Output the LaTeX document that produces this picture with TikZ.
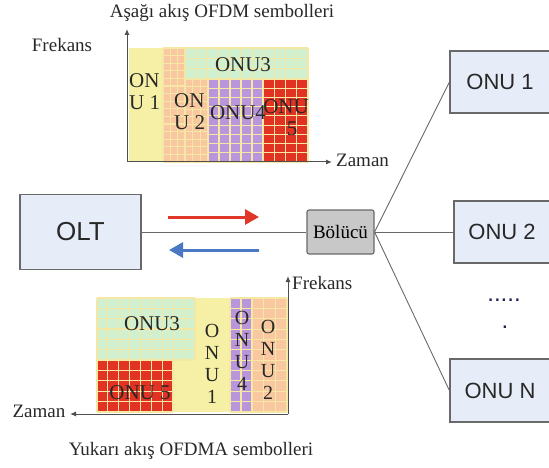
\documentclass[tikz,border=0pt]{standalone}
\usepackage{fontspec}
\setmainfont{Liberation Serif}
\newfontfamily\sansf{Liberation Sans}
\usetikzlibrary{arrows.meta}
\definecolor{cyel}{RGB}{245,240,165}
\definecolor{corange}{RGB}{250,200,160}
\definecolor{cgreen}{RGB}{208,240,208}
\definecolor{cpurple}{RGB}{185,150,220}
\definecolor{cred}{RGB}{225,50,35}
\definecolor{cgrid}{RGB}{245,232,165}
\definecolor{boxfill}{RGB}{230,237,248}
\definecolor{boxline}{RGB}{105,105,105}
\definecolor{splfill}{RGB}{200,200,200}
\definecolor{axis}{RGB}{80,80,80}
\definecolor{txt}{RGB}{40,40,40}
\definecolor{arrred}{RGB}{225,55,40}
\definecolor{arrblue}{RGB}{75,120,195}
\newcommand\cellblock[7]{%
  \fill[#7] (#1,#2) rectangle ++(#3,#4);
  \foreach \k in {0,...,#5} \draw[gridln] ({#1+\k*#3/#5},#2) -- ++(0,#4);
  \foreach \k in {0,...,#6} \draw[gridln] (#1,{#2+\k*#4/#6}) -- ++(#3,0);
}
\tikzset{
  gridln/.style={draw=cgrid, line width=1.1pt},
  netbox/.style={draw=boxline, fill=boxfill, line width=1.2pt, inner sep=0pt,
    text=txt, font=\sansf\fontsize{22}{24}\selectfont},
  splbox/.style={draw=boxline, fill=splfill, line width=1.1pt, rounded corners=2pt,
    inner sep=0pt, minimum width=67pt, minimum height=44pt, text=black,
    font=\fontsize{19}{20}\selectfont},
  link/.style={draw=boxline, line width=0.9pt},
  axisarr/.style={draw=axis, line width=1pt, -{Latex[length=6pt,width=5pt]}},
  lbl/.style={inner sep=0pt, text=txt, font=\fontsize{19}{20}\selectfont},
  cell/.style={inner sep=0pt, text=txt, font=\fontsize{21}{22}\selectfont},
  vcell/.style={inner sep=0pt, text=txt, align=center, font=\fontsize{20}{21.8}\selectfont},
}
\begin{document}
\begin{tikzpicture}[x=1pt,y=-1pt]
\useasboundingbox (0,0) rectangle (549,468);

% ---------- top chart (downstream) ----------
\fill[cyel] (129,48) rectangle (308,162);
\cellblock{163}{48}{22}{114}{3}{15}{corange}
\cellblock{185}{79}{23}{83}{3}{11}{corange}
\cellblock{185}{48}{123}{31}{11}{3}{cgreen}
\cellblock{208}{79}{55}{83}{5}{9}{cpurple}
\cellblock{263}{79}{45}{83}{4}{9}{cred}

\coordinate (to) at (127,162);
\coordinate (ty) at (127,29);
\coordinate (tx) at (332,162);
\draw[axisarr] (to) -- (ty);
\draw[axisarr] (to) -- (tx);

\node[cell, anchor=west] (t1a) at (129,81) {ON};
\node[cell, anchor=west] (t1b) at (129,103) {U 1};
\node[cell, anchor=west] (t2a) at (174,101) {ON};
\node[cell, anchor=west] (t2b) at (174,123) {U 2};
\node[cell] (t3) at (243,65) {ONU3};
\node[cell] (t4) at (238,113) {ONU4};
\node[cell] (t5a) at (286,107) {ONU};
\node[cell] (t5b) at (292,129) {5};

\node[lbl] (ttitle) at (222,13) {Aşağı akış OFDM sembolleri};
\node[lbl] (tfreq) at (62,45) {Frekans};
\node[lbl, anchor=west] (tzam) at (336,160) {Zaman};

% ---------- bottom chart (upstream) ----------
\fill[cyel] (97,298) rectangle (287,412);
\cellblock{97}{298}{98}{62}{9}{6}{cgreen}
\cellblock{97}{360}{76}{52}{7}{5}{cred}
\cellblock{230}{298}{22}{114}{2}{11}{cpurple}
\cellblock{252}{298}{35}{114}{3}{11}{corange}

\coordinate (bo) at (288,414);
\coordinate (by) at (288,276);
\coordinate (bx) at (70,414);
\draw[axisarr] (bo) -- (by);
\draw[axisarr] (bo) -- (bx);

\node[cell] (b3) at (152,324) {ONU3};
\node[cell] (b5) at (140,393) {ONU 5};
\node[vcell] (b1) at (212,364) {O\\N\\U\\1};
\node[vcell] (b4) at (242,351) {O\\N\\U\\4};
\node[vcell] (b2) at (268,360) {O\\N\\U\\2};

\node[lbl, anchor=west] (bfreq) at (292,283) {Frekans};
\node[lbl] (bzam) at (39,411) {Zaman};
\node[lbl] (btitle) at (191,451) {Yukarı akış OFDMA sembolleri};

% ---------- network ----------
\node[netbox, minimum width=121pt, minimum height=75pt,
      font=\sansf\fontsize{26}{28}\selectfont] (olt) at (80.5,232) {OLT};
\node[splbox] (spl) at (340.5,232) {Bölücü};
\node[netbox, minimum width=100pt, minimum height=62pt] (onu1) at (500,82) {ONU 1};
\node[netbox, minimum width=96pt, minimum height=62pt] (onu2) at (502,232) {ONU 2};
\node[netbox, minimum width=100pt, minimum height=63pt] (onun) at (500,390.5) {ONU N};

\draw[link] (olt.east) -- (spl.west);
\draw[link] (spl.east) -- (onu1.west);
\draw[link] (spl.east) -- (onu2.west);
\draw[link] (spl.east) -- (onun.west);

\node[inner sep=0pt, text=txt!80!blue, font=\sansf\fontsize{24}{24}\selectfont] (dots1) at (504,300) {.....};
\node[inner sep=0pt, text=txt!80!blue, font=\sansf\fontsize{24}{24}\selectfont] (dots2) at (505,327) {.};

% ---------- direction arrows ----------
\coordinate (ra) at (168,217);
\coordinate (rb) at (259,217);
\coordinate (ba) at (259,250);
\coordinate (bb) at (169,250);
\draw[arrred, line width=3pt, -{Triangle[length=14pt,width=15pt]}] (ra) -- (rb);
\draw[arrblue, line width=3pt, -{Triangle[length=14pt,width=15pt]}] (ba) -- (bb);
\end{tikzpicture}
\end{document}
